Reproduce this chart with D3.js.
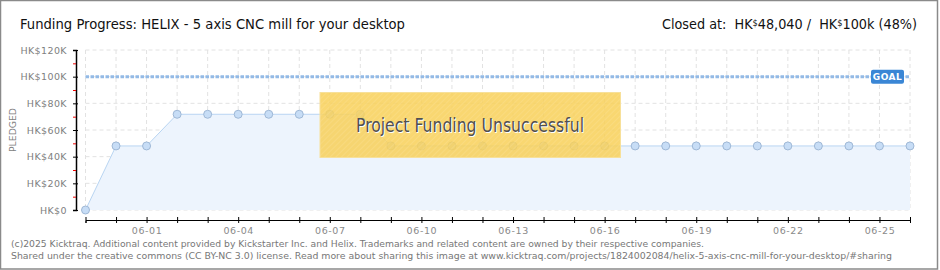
<!DOCTYPE html>
<html>
<head>
<meta charset="utf-8">
<script src="https://cdn.jsdelivr.net/npm/d3@7"></script>
<style>
  body { margin: 0; background: #fff; }
  svg { display: block; }
  .tick text { font-family: "DejaVu Sans", sans-serif; }
</style>
</head>
<body>
<div id="chart"></div>
<script>
// daily pledged totals, 05-30 .. 06-26
const DATES = ["05-30", "05-31", "06-01", "06-02", "06-03", "06-04", "06-05", "06-06", "06-07",
               "06-08", "06-09", "06-10", "06-11", "06-12", "06-13", "06-14", "06-15", "06-16",
               "06-17", "06-18", "06-19", "06-20", "06-21", "06-22", "06-23", "06-24", "06-25", "06-26"];
const PLEDGED = [0, 48040, 48040, 71800, 71800, 71800, 71800, 71800, 71800,
                 71800, 48040, 48040, 48040, 48040, 48040, 48040, 48040, 48040,
                 48040, 48040, 48040, 48040, 48040, 48040, 48040, 48040, 48040, 48040];
const Y_TICKS = [0, 20000, 40000, 60000, 80000, 100000, 120000];
const Y_TICK_LABELS = ["HK$0", "HK$20K", "HK$40K", "HK$60K", "HK$80K", "HK$100K", "HK$120K"];
const Y_MINOR = [10000, 30000, 50000, 70000, 90000, 110000];
const X_LABELS = ["06-01", "06-04", "06-07", "06-10", "06-13", "06-16", "06-19", "06-22", "06-25"];
const GOAL = 100000;

const WIDTH = 940, HEIGHT = 270;
const LEFT = 85.5, RIGHT = 910, TOP = 50, BOTTOM = 210;

const svg = d3.select("#chart").append("svg")
    .attr("width", WIDTH).attr("height", HEIGHT);

// frame
svg.append("rect")
    .attr("x", 0.5).attr("y", 0.5).attr("width", 937).attr("height", 268.5)
    .attr("fill", "#fff").attr("stroke", "#8a8a8a").attr("stroke-width", 1.5);

// stripes for the overlay box
const defs = svg.append("defs");
const pat = defs.append("pattern").attr("id", "stripes")
    .attr("width", 4).attr("height", 4).attr("patternUnits", "userSpaceOnUse")
    .attr("patternTransform", "rotate(45)");
pat.append("rect").attr("width", 4).attr("height", 4).attr("fill", "rgba(248,208,90,0.86)");
pat.append("line").attr("x1", 0).attr("y1", 0).attr("x2", 0).attr("y2", 4)
    .attr("stroke", "rgba(255,255,255,0.12)").attr("stroke-width", 1.5);

let xScale = d3.scalePoint().domain(DATES).range([LEFT, RIGHT]);
let yScale = d3.scaleLinear().domain([0, 120000]).range([BOTTOM, TOP]);

// grid
svg.append("g").selectAll("line").data(DATES).enter().append("line")
    .attr("x1", d => xScale(d)).attr("x2", d => xScale(d))
    .attr("y1", TOP).attr("y2", BOTTOM)
    .attr("stroke", "#e2e2e2").attr("stroke-dasharray", "4,3");
svg.append("g").selectAll("line").data(Y_TICKS).enter().append("line")
    .attr("x1", LEFT).attr("x2", RIGHT)
    .attr("y1", d => yScale(d)).attr("y2", d => yScale(d))
    .attr("stroke", "#e2e2e2").attr("stroke-dasharray", "4,3");

// area + line
const series = DATES.map((d, i) => ({ date: d, value: PLEDGED[i] }));
svg.append("path").datum(series)
    .attr("fill", "#edf4fd")
    .attr("d", d3.area().x(d => xScale(d.date)).y0(yScale(0)).y1(d => yScale(d.value)));
svg.append("path").datum(series)
    .attr("fill", "none").attr("stroke", "#b9d5f2").attr("stroke-width", 1)
    .attr("d", d3.line().x(d => xScale(d.date)).y(d => yScale(d.value)));

// goal line
svg.append("line")
    .attr("x1", LEFT).attr("x2", RIGHT)
    .attr("y1", yScale(GOAL)).attr("y2", yScale(GOAL))
    .attr("stroke", "#93bae6").attr("stroke-width", 3).attr("stroke-dasharray", "3.5,1.5");

// points
svg.append("g").selectAll("circle").data(series).enter().append("circle")
    .attr("cx", d => xScale(d.date)).attr("cy", d => yScale(d.value)).attr("r", 4)
    .attr("fill", "#c7ddf6").attr("stroke", "#9fb8d6").attr("stroke-width", 1);

// goal badge
const gx = xScale("06-26") - 39, gy = yScale(GOAL);
svg.append("rect").attr("x", gx).attr("y", gy - 7).attr("width", 33).attr("height", 14)
    .attr("rx", 2).attr("fill", "#3a86d5");
svg.append("text").attr("x", gx + 16.5).attr("y", gy + 3.5)
    .attr("text-anchor", "middle").attr("fill", "#fff")
    .style("font", "bold 9px 'DejaVu Sans', sans-serif").style("letter-spacing", "0.5px")
    .text("GOAL");

// x axis
let xAxis = d3.axisBottom(xScale).tickSizeOuter(0).tickSize(3)
    .tickFormat(d => X_LABELS.includes(d) ? d : "");
const gX = svg.append("g").attr("transform", "translate(0,220)").call(xAxis);
gX.select(".domain").attr("stroke", "#000");
gX.selectAll(".tick line").attr("y1", -3).attr("y2", 3).attr("stroke", "#000");
gX.selectAll(".tick text").attr("y", 7).attr("fill", "#8a8a8a")
    .style("font-size", "9.5px").style("letter-spacing", "0.6px");

// y axis
let yAxis = d3.axisLeft(yScale).tickValues(Y_TICKS).tickSizeOuter(0).tickSize(3)
    .tickFormat((d, i) => Y_TICK_LABELS[i]);
const gY = svg.append("g").attr("transform", "translate(76,0)").call(yAxis);
gY.select(".domain").attr("stroke", "#000").attr("stroke-width", 1.5);
gY.selectAll(".tick line").attr("x1", -3).attr("x2", 2).attr("stroke", "#000");
gY.selectAll(".tick text").attr("x", -9).attr("fill", "#808080")
    .style("font-size", "9.5px").style("letter-spacing", "0.4px");

let yMinor = d3.axisLeft(yScale).tickValues(Y_MINOR).tickSize(3).tickFormat("");
const gM = svg.append("g").attr("transform", "translate(76,0)").call(yMinor);
gM.select(".domain").remove();
gM.selectAll(".tick line").attr("stroke", "#e00");

svg.append("text")
    .attr("transform", "translate(16,130) rotate(-90)")
    .attr("text-anchor", "middle").attr("fill", "#808080")
    .attr("textLength", 44).attr("lengthAdjust", "spacingAndGlyphs")
    .style("font", "9px 'DejaVu Sans', sans-serif")
    .text("PLEDGED");

// unsuccessful overlay
svg.append("rect").attr("x", 320).attr("y", 92.5).attr("width", 300.5).attr("height", 65)
    .attr("fill", "url(#stripes)").attr("stroke", "#f7e09a").attr("stroke-width", 1);
svg.append("text").attr("x", 471).attr("y", 133)
    .attr("text-anchor", "middle").attr("fill", "#fff")
    .attr("textLength", 228).attr("lengthAdjust", "spacingAndGlyphs")
    .style("font", "19px 'DejaVu Sans Condensed', 'DejaVu Sans', sans-serif")
    .text("Project Funding Unsuccessful");
svg.append("text").attr("x", 470).attr("y", 132)
    .attr("text-anchor", "middle").attr("fill", "#505050")
    .attr("textLength", 228).attr("lengthAdjust", "spacingAndGlyphs")
    .style("font", "19px 'DejaVu Sans Condensed', 'DejaVu Sans', sans-serif")
    .text("Project Funding Unsuccessful");

// titles
svg.append("text").attr("x", 20).attr("y", 29).attr("fill", "#111")
    .attr("textLength", 385).attr("lengthAdjust", "spacingAndGlyphs")
    .style("font", "14px 'Liberation Sans Narrow', 'DejaVu Sans Condensed', sans-serif")
    .text("Funding Progress: HELIX - 5 axis CNC mill for your desktop");

const right = svg.append("text").attr("x", 662).attr("y", 29).attr("fill", "#111")
    .attr("textLength", 255).attr("lengthAdjust", "spacingAndGlyphs")
    .style("font", "14px 'Liberation Sans Narrow', 'DejaVu Sans Condensed', sans-serif")
    .attr("xml:space", "preserve");
right.append("tspan").text("Closed at:  HK");
right.append("tspan").attr("dy", -3).style("font-size", "9px").text("$");
right.append("tspan").attr("dy", 3).text("48,040 /  HK");
right.append("tspan").attr("dy", -3).style("font-size", "9px").text("$");
right.append("tspan").attr("dy", 3).text("100k (48%)");

// footer
const foot = svg.append("g").attr("fill", "#777")
    .style("font", "9.5px 'DejaVu Sans Condensed', 'DejaVu Sans', sans-serif");
foot.append("text").attr("x", 11).attr("y", 246.5)
    .attr("textLength", 693).attr("lengthAdjust", "spacingAndGlyphs")
    .text("(c)2025 Kicktraq. Additional content provided by Kickstarter Inc. and Helix. Trademarks and related content are owned by their respective companies.");
foot.append("text").attr("x", 11).attr("y", 258.5)
    .attr("textLength", 881).attr("lengthAdjust", "spacingAndGlyphs")
    .text("Shared under the creative commons (CC BY-NC 3.0) license. Read more about sharing this image at www.kicktraq.com/projects/1824002084/helix-5-axis-cnc-mill-for-your-desktop/#sharing");
</script>
</body>
</html>
